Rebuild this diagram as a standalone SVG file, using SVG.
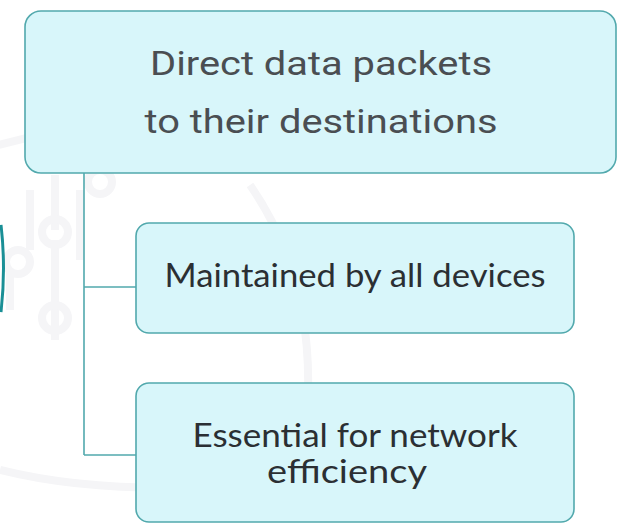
<svg xmlns="http://www.w3.org/2000/svg" width="624" height="523" viewBox="0 0 624 523">
<style>
.box{fill:#d8f6fa;stroke:#52a9ad;stroke-width:1.6}
.conn{fill:none;stroke:#52a9ad;stroke-width:1.6}
.deco{fill:none;stroke:#f5f5f7;stroke-width:8}
.t1{font-family:Roboto,"Noto Sans",sans-serif;font-size:34px;fill:#4a4e52;text-anchor:middle}
.t2{font-family:Lato,"Noto Sans",sans-serif;font-size:32px;fill:#2b2f33;text-anchor:middle}
</style>
<rect width="624" height="523" fill="#ffffff"/>
<g id="background">
<path class="deco" d="M-20 150 Q300 60 560 160"/>
<path class="deco" d="M0 470 Q120 500 300 480"/>
<path class="deco" d="M250 185 Q330 300 300 470"/>
<path class="deco" d="M30 190 L30 250 M55 175 L55 230 M80 190 L80 260 M10 270 L10 310 M55 240 L55 340"/>
<circle class="deco" cx="55" cy="232" r="13"/>
<circle class="deco" cx="18" cy="262" r="12"/>
<circle class="deco" cx="55" cy="318" r="13"/>
<circle class="deco" cx="100" cy="182" r="12"/>
<path d="M1 225 Q6 268 1 312" fill="none" stroke="#1a8f96" stroke-width="3"/>
</g>
<g id="connectors">
<path class="conn" d="M84 173 L84 455 M84 287 L136 287 M84 455 L136 455"/>
</g>
<g id="node-main">
<rect class="box" x="25" y="11" width="591" height="162" rx="16"/>
<text class="t1" x="321" y="75" textLength="342" lengthAdjust="spacingAndGlyphs">Direct data packets</text>
<text class="t1" x="321" y="133" textLength="353" lengthAdjust="spacingAndGlyphs">to their destinations</text>
</g>
<g id="node-maintained">
<rect class="box" x="136" y="223" width="438" height="110" rx="13"/>
<text class="t2" x="355" y="287" textLength="381" lengthAdjust="spacingAndGlyphs">Maintained by all devices</text>
</g>
<g id="node-essential">
<rect class="box" x="136" y="383" width="438" height="139" rx="13"/>
<text class="t2" x="355" y="447" textLength="325" lengthAdjust="spacingAndGlyphs">Essential for network</text>
<text class="t2" x="347" y="483" textLength="160" lengthAdjust="spacingAndGlyphs">efficiency</text>
</g>
</svg>
